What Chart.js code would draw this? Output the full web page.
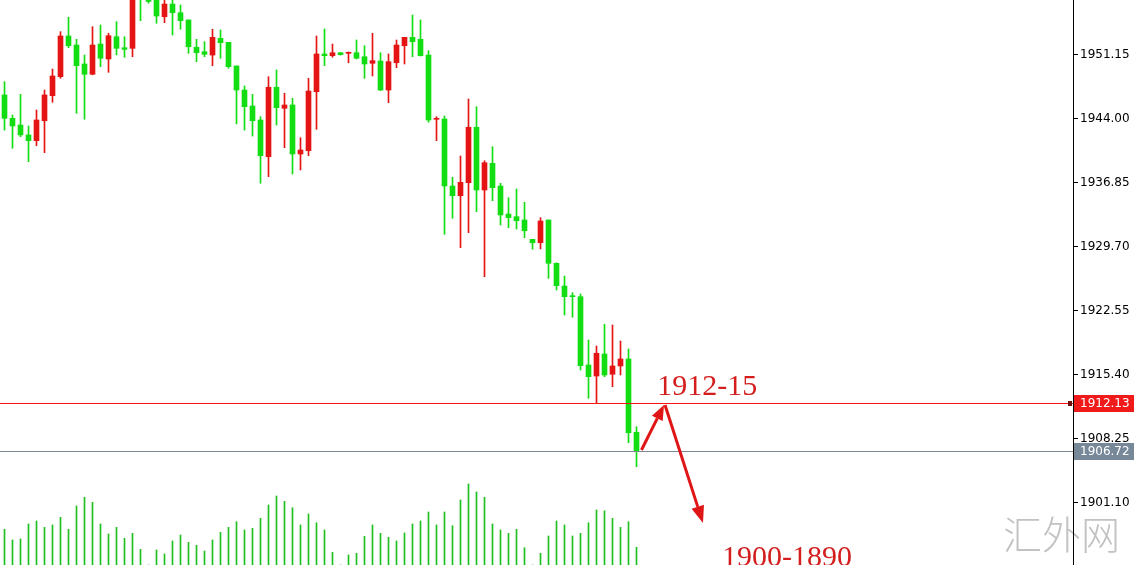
<!DOCTYPE html>
<html><head><meta charset="utf-8">
<script src="https://cdn.jsdelivr.net/npm/chart.js@4.4.1/dist/chart.umd.min.js"></script>
<style>html,body{margin:0;padding:0;background:#fff;overflow:hidden}#wrap{position:relative;width:1134px;height:565px}</style>
</head><body><div id="wrap"><canvas id="c"></canvas></div>
<script>
const opens = [1946.55,1943.94,1943.19,1942.08,1941.44,1943.67,1946.47,1948.59,1953.14,1952.13,
1950.01,1948.86,1952.24,1950.57,1953.06,1951.83,1951.76,1958.28,1957.50,1957.30,
1955.29,1956.71,1955.74,1954.93,1951.88,1951.38,1951.01,1952.88,1952.43,1949.79,
1947.10,1945.32,1943.75,1939.65,1947.41,1945.06,1945.43,1939.95,1940.32,1946.91,
1951.13,1950.94,1951.27,1951.20,1951.27,1950.82,1950.09,1950.34,1947.10,1950.15,
1952.05,1952.99,1952.77,1951.01,1943.83,1943.86,1936.38,1935.29,1936.75,1942.94,
1935.93,1938.91,1936.38,1933.25,1932.95,1932.58,1930.42,1930.04,1932.58,1927.74,
1925.20,1924.09,1924.01,1916.38,1915.15,1917.61,1915.34,1916.27,1917.05,1908.86];
const highs = [1948.03,1944.31,1946.62,1943.08,1944.87,1947.10,1949.45,1953.62,1955.23,1952.77,
1951.01,1954.18,1954.37,1953.44,1954.74,1953.06,1957.83,1958.50,1958.00,1957.80,
1957.30,1957.20,1956.60,1954.93,1952.77,1952.50,1953.89,1953.81,1952.43,1949.79,
1947.55,1946.62,1944.12,1948.59,1949.34,1946.74,1946.18,1941.77,1948.41,1953.14,
1953.92,1952.24,1951.30,1951.35,1952.69,1952.05,1953.44,1951.27,1951.13,1952.69,
1952.99,1955.48,1954.93,1951.50,1944.12,1944.20,1937.35,1939.73,1946.10,1945.24,
1939.20,1940.77,1936.68,1935.07,1936.04,1934.56,1930.42,1932.84,1932.58,1927.80,
1926.32,1924.46,1924.31,1919.17,1918.50,1920.93,1920.85,1919.06,1918.17,1909.48];
const lows = [1942.63,1940.59,1941.89,1939.09,1940.88,1940.10,1945.73,1948.41,1951.83,1944.50,
1943.83,1948.80,1949.71,1949.08,1951.01,1950.76,1950.82,1954.85,1956.80,1954.56,
1954.62,1953.25,1953.89,1951.20,1950.27,1950.82,1949.82,1950.65,1949.53,1943.31,
1942.63,1941.96,1936.68,1937.42,1943.19,1940.66,1937.72,1938.17,1939.76,1942.71,
1949.82,1950.76,1951.00,1950.15,1950.57,1948.41,1948.67,1947.03,1945.69,1949.60,
1950.01,1950.82,1950.90,1943.50,1941.44,1930.98,1932.77,1929.48,1931.16,1933.51,
1926.24,1934.74,1932.02,1931.72,1931.57,1930.60,1929.31,1929.34,1926.06,1924.76,
1921.96,1921.71,1915.82,1912.66,1912.10,1915.07,1913.95,1915.26,1907.70,1905.01];
const closes = [1943.94,1943.08,1942.08,1941.44,1943.75,1946.55,1948.67,1953.14,1952.05,1949.82,
1948.86,1952.13,1950.65,1953.17,1951.76,1951.65,1957.38,1957.27,1957.00,1955.37,
1956.71,1955.74,1954.85,1951.94,1951.27,1951.09,1952.99,1952.39,1949.71,1947.10,
1945.24,1943.67,1939.76,1947.41,1945.13,1945.43,1939.95,1940.40,1946.99,1951.13,
1950.94,1951.27,1951.05,1951.32,1950.65,1950.01,1950.38,1947.10,1950.27,1952.13,
1952.99,1952.50,1950.94,1943.75,1943.94,1936.38,1935.29,1936.79,1942.94,1935.93,
1938.98,1936.19,1933.14,1932.84,1932.50,1931.38,1930.04,1932.47,1927.74,1925.24,
1924.01,1924.01,1916.30,1915.07,1917.69,1915.26,1916.27,1917.05,1908.81,1906.72];
const volumes = [35.7,25,26,41,44,37.7,40,47.7,35.7,59,
67.7,62.7,41,31,37.7,26.7,31.7,15.7,0,15,
11,24,30,22.7,19.7,14,25,32.7,37.7,43.3,
35,36.7,46.7,60,69,63.7,57.3,40,51,42.3,
35,12.7,0,10,11.7,28.7,40,31.7,27.7,24,
32,41,44,53,40,53,39.3,65,81,73,
67.7,41,35,31.7,35.7,17.3,0,11.7,29,44,
40,29,31.7,42.3,55,54.3,46.7,37.7,43.3,17.7];
const priceTicks = [1901.10,1908.25,1915.40,1922.55,1929.70,1936.85,1944.00,1951.15];
const levelPrices = [1912.13, 1906.72];
const annotationTexts = ['1912-15', '1900-1890'];
const annotationAt = [[81.6, 1913.03], [89.7, 1893.92]];
const arrowPath = [[79.62, 1906.88], [82.44, 1911.91], [87.31, 1898.72]];
const watermarkText = '汇外网';

const UP = '#e41414', DOWN = '#12dc12', VOL = '#1fbf1f';
const idx = opens.map((_, i) => i);
const candleColor = i => closes[i] < opens[i] ? DOWN : UP;

function drawArrow(ctx, x1, y1, x2, y2, len, half) {
  const a = Math.atan2(y2 - y1, x2 - x1);
  const bx = x2 - len * Math.cos(a), by = y2 - len * Math.sin(a);
  ctx.beginPath(); ctx.moveTo(x1, y1); ctx.lineTo(bx, by); ctx.stroke();
  ctx.beginPath();
  ctx.moveTo(x2, y2);
  ctx.lineTo(bx + half * Math.sin(a), by - half * Math.cos(a));
  ctx.lineTo(bx - half * Math.sin(a), by + half * Math.cos(a));
  ctx.closePath(); ctx.fill();
}

const overlay = {
  id: 'overlay',
  afterDatasetsDraw(chart) {
    const {ctx, chartArea: ca, scales: {x, y}} = chart;
    ctx.save();
    // level lines
    const lvlColors = ['#ff1414', '#7d8b99'];
    levelPrices.forEach((p, k) => {
      const py = Math.round(y.getPixelForValue(p));
      ctx.fillStyle = lvlColors[k];
      ctx.fillRect(ca.left, py, ca.right - ca.left, 1);
    });
    // marker on red line near axis
    const ry = Math.round(y.getPixelForValue(levelPrices[0]));
    ctx.fillStyle = '#6e1010';
    ctx.fillRect(ca.right - 5, ry - 2, 4, 5);
    // arrows
    ctx.strokeStyle = '#e01616'; ctx.fillStyle = '#e01616'; ctx.lineWidth = 3; ctx.lineCap = 'butt';
    const pts = arrowPath.map(([i, p]) => [x.getPixelForValue(i), y.getPixelForValue(p)]);
    drawArrow(ctx, pts[0][0], pts[0][1], pts[1][0], pts[1][1], 15, 6);
    drawArrow(ctx, pts[1][0] + 1, pts[1][1], pts[2][0], pts[2][1], 17, 6.5);
    // annotation texts
    ctx.fillStyle = '#d41e1e';
    ctx.font = '30px "Liberation Serif", "DejaVu Serif", serif';
    ctx.textBaseline = 'alphabetic'; ctx.textAlign = 'left';
    annotationTexts.forEach((t, k) => {
      ctx.fillText(t, x.getPixelForValue(annotationAt[k][0]), y.getPixelForValue(annotationAt[k][1]));
    });
    // watermark
    ctx.fillStyle = '#c2c2c2';
    ctx.font = '300 39px "Noto Sans CJK SC", sans-serif';
    ctx.fillText(watermarkText, ca.right - 70, 549);
    // axis line
    ctx.fillStyle = '#000';
    ctx.fillRect(ca.right, 0, 1, chart.height);
    // ticks
    ctx.font = '12px "DejaVu Sans", sans-serif';
    ctx.textBaseline = 'middle';
    priceTicks.forEach(v => {
      const py = Math.round(y.getPixelForValue(v));
      ctx.fillRect(ca.right, py, 5, 1);
      ctx.fillText(v.toFixed(2), ca.right + 7, py + 1);
    });
    // level labels
    const boxColors = ['#f01a1a', '#778899'];
    levelPrices.forEach((p, k) => {
      const py = Math.round(y.getPixelForValue(p));
      ctx.fillStyle = boxColors[k];
      ctx.fillRect(ca.right + 1, py - 8, chart.width - ca.right - 1, 17);
      ctx.fillStyle = '#fff';
      ctx.fillText(p.toFixed(2), ca.right + 7, py + 1);
    });
    ctx.restore();
  }
};

new Chart(document.getElementById('c'), {
  type: 'bar',
  data: {
    datasets: [
      {
        label: 'Volume', yAxisID: 'yv', grouped: false, order: 3,
        data: idx.map(i => ({x: i, y: volumes[i]})),
        backgroundColor: VOL, barThickness: 1, borderWidth: 0
      },
      {
        label: 'Wick', yAxisID: 'y', grouped: false, order: 2,
        data: idx.map(i => ({x: i, y: [lows[i], highs[i]]})),
        backgroundColor: ctx => candleColor(ctx.dataIndex), barThickness: 1, borderWidth: 0
      },
      {
        label: 'Body', yAxisID: 'y', grouped: false, order: 1,
        data: idx.map(i => ({x: i, y: [opens[i], closes[i]]})),
        backgroundColor: ctx => candleColor(ctx.dataIndex), barThickness: 5, borderWidth: 0, minBarLength: 1
      }
    ]
  },
  options: {
    responsive: true, maintainAspectRatio: false, animation: false,
    layout: {padding: {left: 0, right: 61, top: 0, bottom: 0}},
    plugins: {legend: {display: false}, tooltip: {enabled: false}},
    scales: {
      x: {type: 'linear', display: false, offset: false, min: -0.5625, max: 133.5625, grid: {display: false}},
      y: {type: 'linear', display: false, min: 1894.03, max: 1957.16, grid: {display: false}},
      yv: {type: 'linear', display: false, min: 0, max: 565, grid: {display: false}}
    }
  },
  plugins: [overlay]
});
</script>
</body></html>
